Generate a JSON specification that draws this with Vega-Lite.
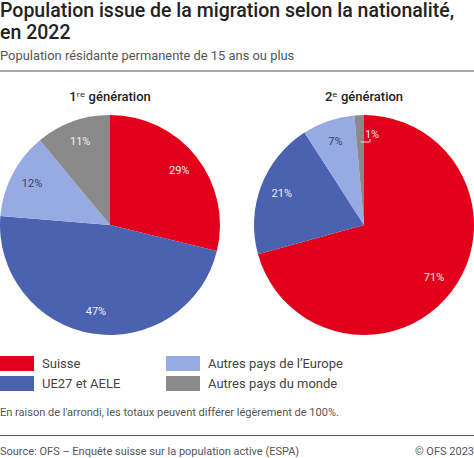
{
"$schema":"https://vega.github.io/schema/vega-lite/v6.json",
"width":474,"height":364,
"autosize":{"type":"none"},
"padding":{"top":71,"bottom":23,"left":0,"right":0},
"background":"white",
"title":{"text":["Population issue de la migration selon la nationalité,","en 2022"],"subtitle":"Population résidante permanente de 15 ans ou plus","anchor":"start","frame":"group","font":"Roboto","fontSize":19.5,"fontWeight":500,"color":"#222222","lineHeight":22,"subtitleFont":"Roboto","subtitleFontSize":12.9,"subtitleColor":"#555555","subtitlePadding":6,"offset":7},
"config":{"axis":{"disable":true},"view":{"stroke":null},"text":{"font":"Roboto"}},
"datasets":{"parts":[
{"generation":"1re","nationalite":"Suisse","valeur":28.8,"rang":1,"etiquette":"29%"},
{"generation":"1re","nationalite":"UE27 et AELE","valeur":47.5,"rang":2,"etiquette":"47%"},
{"generation":"1re","nationalite":"Autres pays de l’Europe","valeur":12.7,"rang":3,"etiquette":"12%"},
{"generation":"1re","nationalite":"Autres pays du monde","valeur":11,"rang":4,"etiquette":"11%"},
{"generation":"2e","nationalite":"Suisse","valeur":70.7,"rang":1,"etiquette":"71%"},
{"generation":"2e","nationalite":"UE27 et AELE","valeur":20.2,"rang":2,"etiquette":"21%"},
{"generation":"2e","nationalite":"Autres pays de l’Europe","valeur":7.7,"rang":3,"etiquette":"7%"},
{"generation":"2e","nationalite":"Autres pays du monde","valeur":1.4,"rang":4,"etiquette":"1%"}
]},
"data":{"name":"parts"},
"layer":[
{"transform":[{"filter":"datum.generation==='1re'"}],"mark":{"type":"arc","outerRadius":110},
"encoding":{"x":{"datum":110,"type":"quantitative","scale":{"domain":[0,474],"nice":false,"zero":false}},"y":{"datum":154,"type":"quantitative","scale":{"domain":[0,364],"nice":false,"zero":false,"reverse":true}},
"theta":{"field":"valeur","type":"quantitative","stack":"normalize"},"order":{"field":"rang"},
"color":{"field":"nationalite","type":"nominal","scale":{"domain":["Suisse","UE27 et AELE","Autres pays de l’Europe","Autres pays du monde"],"range":["#e2001a","#4a62b0","#98aae2","#8a8a8a"]},
"legend":{"title":null,"orient":"none","legendX":0,"legendY":284,"columns":2,"direction":"vertical","symbolType":"M-1,-0.88H3V0.88H-1Z","symbolSize":289,"symbolStrokeWidth":0,"symbolOpacity":1,"labelOffset":25,"labelFont":"Roboto","labelFontSize":13,"labelColor":"#444444","columnPadding":45,"rowPadding":4,"padding":0,"labelLimit":300}}}},
{"transform":[{"filter":"datum.generation==='2e'"}],"mark":{"type":"arc","outerRadius":110},
"encoding":{"x":{"datum":364,"type":"quantitative","scale":{"domain":[0,474],"nice":false,"zero":false}},"y":{"datum":154,"type":"quantitative","scale":{"domain":[0,364],"nice":false,"zero":false,"reverse":true}},
"theta":{"field":"valeur","type":"quantitative","stack":"normalize"},"order":{"field":"rang"},
"color":{"field":"nationalite","type":"nominal"}}},
{"transform":[{"filter":"datum.generation==='1re'"}],"mark":{"type":"text","radius":88,"fontSize":11,"font":"Roboto","baseline":"middle"},
"encoding":{"x":{"datum":110,"type":"quantitative","scale":{"domain":[0,474],"nice":false,"zero":false}},"y":{"datum":154,"type":"quantitative","scale":{"domain":[0,364],"nice":false,"zero":false,"reverse":true}},
"theta":{"field":"valeur","type":"quantitative","stack":"normalize"},"order":{"field":"rang"},"detail":{"field":"nationalite"},"text":{"field":"etiquette"},
"color":{"condition":{"test":"datum.rang===3","value":"#38435f"},"value":"#eef0f8"}}},
{"transform":[{"filter":"datum.generation==='2e'"}],"mark":{"type":"text","radius":88,"fontSize":11,"font":"Roboto","baseline":"middle"},
"encoding":{"x":{"datum":364,"type":"quantitative","scale":{"domain":[0,474],"nice":false,"zero":false}},"y":{"datum":154,"type":"quantitative","scale":{"domain":[0,364],"nice":false,"zero":false,"reverse":true}},
"theta":{"field":"valeur","type":"quantitative","stack":"normalize"},"order":{"field":"rang"},"detail":{"field":"nationalite"},"text":{"field":"etiquette"},
"color":{"condition":{"test":"datum.rang===3","value":"#38435f"},"value":"#eef0f8"},
"opacity":{"condition":{"test":"datum.rang===4","value":0},"value":1}}},
{"transform":[{"filter":"datum.generation==='2e' && datum.rang===4"}],"mark":{"type":"text","fontSize":11,"font":"Roboto","color":"#f4e6e8","baseline":"middle"},
"encoding":{"x":{"datum":372,"type":"quantitative","scale":{"domain":[0,474],"nice":false,"zero":false}},"y":{"datum":64,"type":"quantitative","scale":{"domain":[0,364],"nice":false,"zero":false,"reverse":true}},"text":{"field":"etiquette"}}},
{"data":{"values":[{"x":361,"x2":370,"y":71,"y2":71},{"x":370,"x2":370,"y":68,"y2":71}]},"mark":{"type":"rule","color":"#f4e6e8","strokeWidth":1},
"encoding":{"x":{"field":"x","type":"quantitative","scale":{"domain":[0,474],"nice":false,"zero":false}},"x2":{"field":"x2"},"y":{"field":"y","type":"quantitative","scale":{"domain":[0,364],"nice":false,"zero":false,"reverse":true}},"y2":{"field":"y2"}}},
{"data":{"values":[{"t":"1ʳᵉ génération","x":110},{"t":"2ᵉ génération","x":364}]},"mark":{"type":"text","fontSize":13,"fontWeight":500,"font":"Roboto, DejaVu Sans","color":"#222222","baseline":"middle"},
"encoding":{"x":{"field":"x","type":"quantitative","scale":{"domain":[0,474],"nice":false,"zero":false}},"y":{"datum":25.5,"type":"quantitative","scale":{"domain":[0,364],"nice":false,"zero":false,"reverse":true}},"text":{"field":"t"}}},
{"data":{"values":[{"p":0},{"p":364.5}]},"mark":{"type":"rule","color":"#555555","strokeWidth":1.2},
"encoding":{"y":{"field":"p","type":"quantitative","scale":{"domain":[0,364],"nice":false,"zero":false,"reverse":true}}}},
{"data":{"values":[{"t":"En raison de l'arrondi, les totaux peuvent différer légèrement de 100%.","p":341.5},{"t":"Source: OFS – Enquête suisse sur la population active (ESPA)","p":380.5}]},"mark":{"type":"text","align":"left","baseline":"middle","fontSize":11,"font":"Roboto","color":"#555555"},
"encoding":{"x":{"datum":0,"type":"quantitative","scale":{"domain":[0,474],"nice":false,"zero":false}},"y":{"field":"p","type":"quantitative","scale":{"domain":[0,364],"nice":false,"zero":false,"reverse":true}},"text":{"field":"t"}}},
{"data":{"values":[{"t":"© OFS 2023","p":380.5}]},"mark":{"type":"text","align":"right","baseline":"middle","fontSize":11,"font":"Roboto","color":"#555555"},
"encoding":{"x":{"datum":474,"type":"quantitative","scale":{"domain":[0,474],"nice":false,"zero":false}},"y":{"field":"p","type":"quantitative","scale":{"domain":[0,364],"nice":false,"zero":false,"reverse":true}},"text":{"field":"t"}}}
]
}
